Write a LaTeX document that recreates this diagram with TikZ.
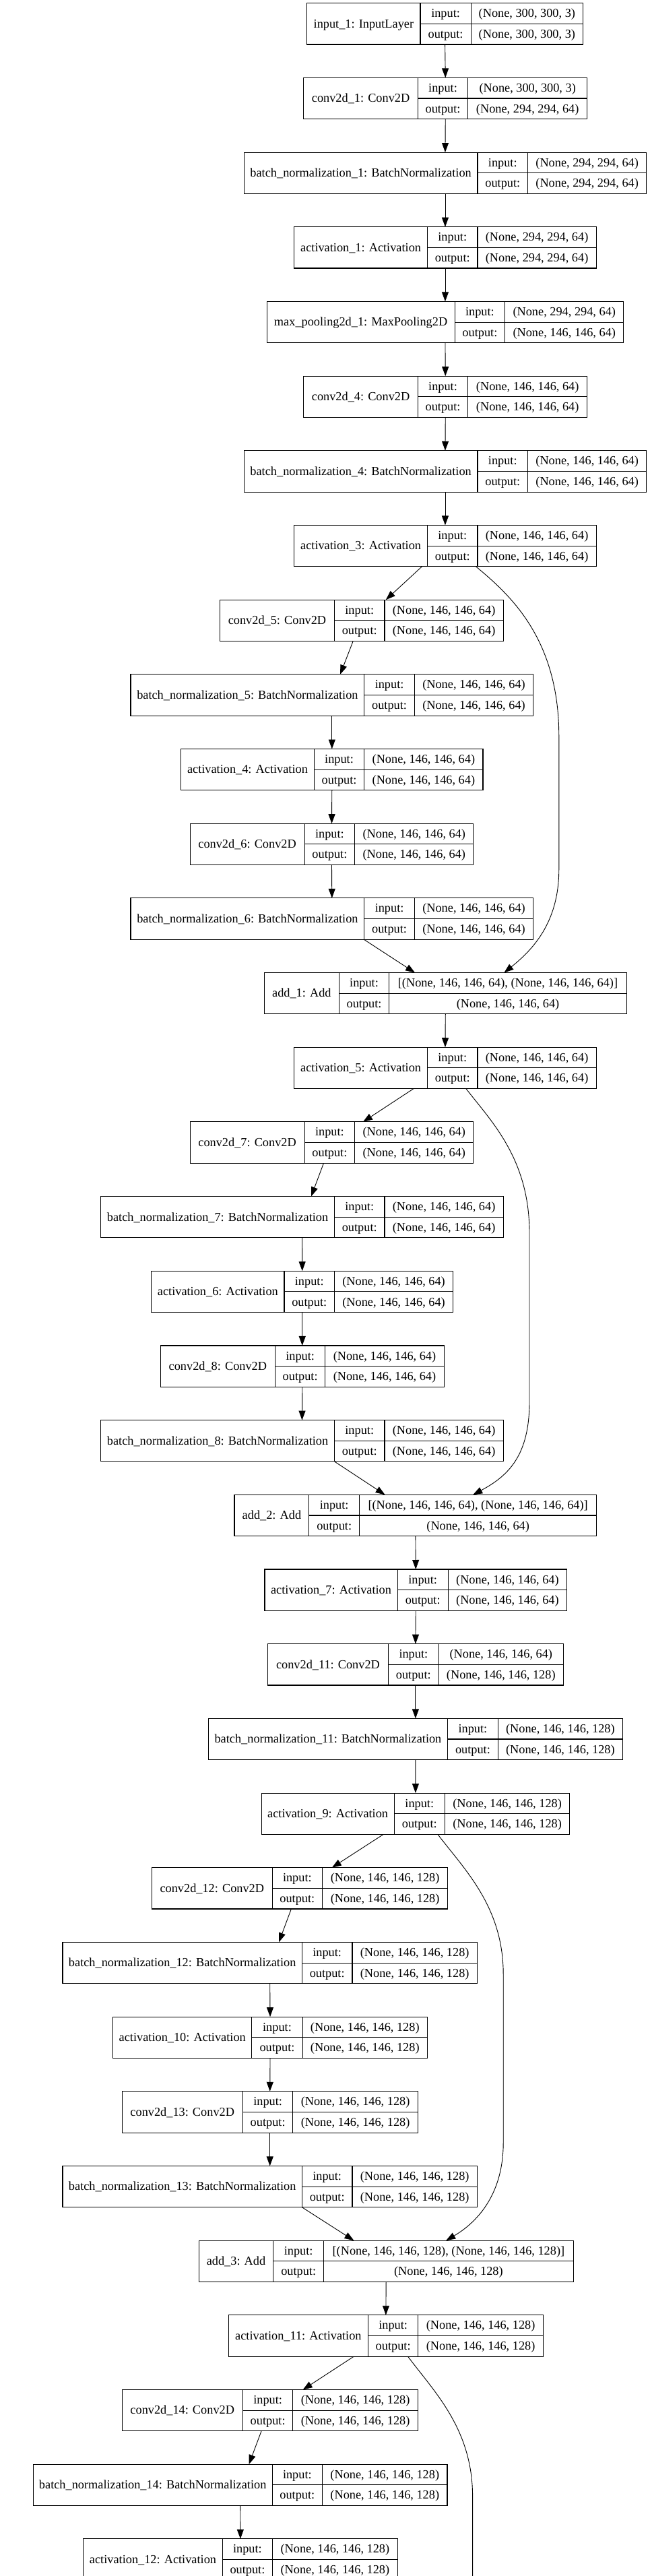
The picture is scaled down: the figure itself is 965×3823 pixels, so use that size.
\documentclass[tikz,border=0pt]{standalone}
\usepackage{fontspec}
\setmainfont{Liberation Serif}
\usetikzlibrary{arrows.meta}
\tikzset{
  recbox/.style={draw=black, line width=1.1pt, inner sep=0pt, outer sep=0pt, minimum height=61.3pt},
  recline/.style={draw=black, line width=1.1pt},
  txt/.style={inner sep=0pt, font=\fontsize{18.3}{22}\selectfont, text height=15.5pt, text depth=4pt},
  edge/.style={draw=black, line width=0.9pt, -{Triangle[length=14pt,width=10pt]}},
  conn/.style={draw=black, line width=0.9pt},
}
\newcommand\krec[9]{%
 \pgfmathsetmacro\ktop{4.7+110.68*#2}%
 \pgfmathsetmacro\kbot{\ktop+61.3}%
 \pgfmathsetmacro\kmid{\ktop+30.65}%
 \pgfmathsetmacro\kup{\ktop+15.325}%
 \pgfmathsetmacro\klo{\ktop+45.975}%
 \pgfmathsetmacro\kw{#6-#3}%
 \node[recbox, minimum width=\kw pt] (#1) at ({(#3+#6)/2},\kmid) {};
 \draw[recline] ({#4},\ktop) -- ({#4},\kbot) ({#5},\ktop) -- ({#5},\kbot) ({#4},\kmid) -- ({#6},\kmid);
 \node[txt] at ({(#3+#4)/2},\kmid) {#7};
 \node[txt] at ({(#4+#5)/2},\kup) {input:};
 \node[txt] at ({(#5+#6)/2},\kup) {#8};
 \node[txt] at ({(#4+#5)/2},\klo) {output:};
 \node[txt] at ({(#5+#6)/2},\klo) {#9};
}
\begin{document}
\begin{tikzpicture}[x=1pt,y=-1pt]
\fill[white] (0,0) rectangle (965,3823);
\useasboundingbox (0,0) rectangle (965,3823);
\krec{input1}{0}{455.8}{624.0}{699.2}{865.5}{input\_1: InputLayer}{(None, 300, 300, 3)}{(None, 300, 300, 3)}
\krec{conv1}{1}{450.9}{620.3}{694.8}{871.6}{conv2d\_1: Conv2D}{(None, 300, 300, 3)}{(None, 294, 294, 64)}
\krec{bn1}{2}{362.2}{709.0}{783.6}{959.7}{batch\_normalization\_1: BatchNormalization}{(None, 294, 294, 64)}{(None, 294, 294, 64)}
\krec{act1}{3}{436.7}{634.5}{709.0}{885.2}{activation\_1: Activation}{(None, 294, 294, 64)}{(None, 294, 294, 64)}
\krec{pool1}{4}{396.1}{675.1}{749.7}{925.8}{max\_pooling2d\_1: MaxPooling2D}{(None, 294, 294, 64)}{(None, 146, 146, 64)}
\krec{conv4}{5}{450.9}{620.3}{694.8}{871.6}{conv2d\_4: Conv2D}{(None, 146, 146, 64)}{(None, 146, 146, 64)}
\krec{bn4}{6}{362.2}{709.0}{783.6}{959.7}{batch\_normalization\_4: BatchNormalization}{(None, 146, 146, 64)}{(None, 146, 146, 64)}
\krec{act3}{7}{436.7}{634.5}{709.0}{885.2}{activation\_3: Activation}{(None, 146, 146, 64)}{(None, 146, 146, 64)}
\krec{conv5}{8}{326.5}{496.5}{571.0}{747.2}{conv2d\_5: Conv2D}{(None, 146, 146, 64)}{(None, 146, 146, 64)}
\krec{bn5}{9}{194.0}{540.8}{615.4}{791.6}{batch\_normalization\_5: BatchNormalization}{(None, 146, 146, 64)}{(None, 146, 146, 64)}
\krec{act4}{10}{268.6}{466.3}{540.8}{717.0}{activation\_4: Activation}{(None, 146, 146, 64)}{(None, 146, 146, 64)}
\krec{conv6}{11}{282.1}{452.1}{526.7}{702.9}{conv2d\_6: Conv2D}{(None, 146, 146, 64)}{(None, 146, 146, 64)}
\krec{bn6}{12}{194.0}{540.8}{615.4}{791.6}{batch\_normalization\_6: BatchNormalization}{(None, 146, 146, 64)}{(None, 146, 146, 64)}
\krec{add1}{13}{392.4}{503.3}{577.8}{930.2}{add\_1: Add}{[(None, 146, 146, 64), (None, 146, 146, 64)]}{(None, 146, 146, 64)}
\krec{act5}{14}{436.7}{634.5}{709.0}{885.2}{activation\_5: Activation}{(None, 146, 146, 64)}{(None, 146, 146, 64)}
\krec{conv7}{15}{282.1}{452.1}{526.7}{702.9}{conv2d\_7: Conv2D}{(None, 146, 146, 64)}{(None, 146, 146, 64)}
\krec{bn7}{16}{149.7}{496.5}{571.0}{747.2}{batch\_normalization\_7: BatchNormalization}{(None, 146, 146, 64)}{(None, 146, 146, 64)}
\krec{act6}{17}{224.8}{422.0}{496.5}{672.7}{activation\_6: Activation}{(None, 146, 146, 64)}{(None, 146, 146, 64)}
\krec{conv8}{18}{238.4}{408.4}{482.9}{659.1}{conv2d\_8: Conv2D}{(None, 146, 146, 64)}{(None, 146, 146, 64)}
\krec{bn8}{19}{149.7}{496.5}{571.0}{747.2}{batch\_normalization\_8: BatchNormalization}{(None, 146, 146, 64)}{(None, 146, 146, 64)}
\krec{add2}{20}{348.0}{458.9}{533.5}{885.8}{add\_2: Add}{[(None, 146, 146, 64), (None, 146, 146, 64)]}{(None, 146, 146, 64)}
\krec{act7}{21}{393.0}{590.1}{665.3}{841.5}{activation\_7: Activation}{(None, 146, 146, 64)}{(None, 146, 146, 64)}
\krec{conv11}{22}{397.3}{576.6}{651.1}{836.5}{conv2d\_11: Conv2D}{(None, 146, 146, 64)}{(None, 146, 146, 128)}
\krec{bn11}{23}{309.2}{664.7}{739.2}{924.6}{batch\_normalization\_11: BatchNormalization}{(None, 146, 146, 128)}{(None, 146, 146, 128)}
\krec{act9}{24}{388.1}{585.2}{660.4}{845.8}{activation\_9: Activation}{(None, 146, 146, 128)}{(None, 146, 146, 128)}
\krec{conv12}{25}{225.5}{404.1}{478.6}{664.7}{conv2d\_12: Conv2D}{(None, 146, 146, 128)}{(None, 146, 146, 128)}
\krec{bn12}{26}{93.0}{448.4}{523.0}{708.4}{batch\_normalization\_12: BatchNormalization}{(None, 146, 146, 128)}{(None, 146, 146, 128)}
\krec{act10}{27}{167.6}{373.9}{449.1}{634.5}{activation\_10: Activation}{(None, 146, 146, 128)}{(None, 146, 146, 128)}
\krec{conv13}{28}{181.1}{360.4}{434.9}{620.3}{conv2d\_13: Conv2D}{(None, 146, 146, 128)}{(None, 146, 146, 128)}
\krec{bn13}{29}{93.0}{448.4}{523.0}{708.4}{batch\_normalization\_13: BatchNormalization}{(None, 146, 146, 128)}{(None, 146, 146, 128)}
\krec{add3}{30}{295.1}{405.9}{480.5}{851.3}{add\_3: Add}{[(None, 146, 146, 128), (None, 146, 146, 128)]}{(None, 146, 146, 128)}
\krec{act11}{31}{339.4}{546.4}{620.9}{806.3}{activation\_11: Activation}{(None, 146, 146, 128)}{(None, 146, 146, 128)}
\krec{conv14}{32}{181.1}{360.4}{434.9}{620.3}{conv2d\_14: Conv2D}{(None, 146, 146, 128)}{(None, 146, 146, 128)}
\krec{bn14}{33}{49.3}{404.1}{478.6}{664.0}{batch\_normalization\_14: BatchNormalization}{(None, 146, 146, 128)}{(None, 146, 146, 128)}
\krec{act12}{34}{123.8}{330.2}{404.7}{590.1}{activation\_12: Activation}{(None, 146, 146, 128)}{(None, 146, 146, 128)}
% straight chain
\draw[edge] (input1.south) -- (conv1.north);
\draw[edge] (conv1.south) -- (bn1.north);
\draw[edge] (bn1.south) -- (act1.north);
\draw[edge] (act1.south) -- (pool1.north);
\draw[edge] (pool1.south) -- (conv4.north);
\draw[edge] (conv4.south) -- (bn4.north);
\draw[edge] (bn4.south) -- (act3.north);
% block 1
\draw[edge] ([xshift=-34.5pt]act3.south) -- ([xshift=36pt]conv5.north);
\draw[edge] ([xshift=-12.65pt]conv5.south) -- ([xshift=12.3pt]bn5.north);
\draw[edge] (bn5.south) -- (act4.north);
\draw[edge] (act4.south) -- (conv6.north);
\draw[edge] (conv6.south) -- (bn6.north);
\draw[edge] ([xshift=47.4pt]bn6.south) -- ([xshift=-45.3pt]add1.north);
\draw[edge] ([xshift=45.6pt]act3.south) .. controls (760,885) and (829.8,950) .. (829.8,1093) -- (829.8,1290) .. controls (829.8,1370) and (790,1410) .. ([xshift=87.1pt]add1.north);
\draw[edge] (add1.south) -- (act5.north);
% block 2
\draw[edge] ([xshift=-46.75pt]act5.south) -- ([xshift=46.5pt]conv7.north);
\draw[edge] ([xshift=-12pt]conv7.south) -- ([xshift=13.55pt]bn7.north);
\draw[edge] (bn7.south) -- (act6.north);
\draw[edge] (act6.south) -- (conv8.north);
\draw[edge] (conv8.south) -- (bn8.north);
\draw[edge] ([xshift=48.05pt]bn8.south) -- ([xshift=-45.3pt]add2.north);
\draw[edge] ([xshift=30.85pt]act5.south) .. controls (730,1665) and (786,1720) .. (786,1830) -- (786,2080) .. controls (786,2160) and (755,2190) .. ([xshift=85.3pt]add2.north);
\draw[edge] (add2.south) -- (act7.north);
\draw[edge] (act7.south) -- (conv11.north);
\draw[edge] (conv11.south) -- (bn11.north);
\draw[edge] (bn11.south) -- (act9.north);
% block 3
\draw[edge] ([xshift=-47.75pt]act9.south) -- ([xshift=47.7pt]conv12.north);
\draw[edge] ([xshift=-12.7pt]conv12.south) -- ([xshift=13.3pt]bn12.north);
\draw[edge] (bn12.south) -- (act10.north);
\draw[edge] (act10.south) -- (conv13.north);
\draw[edge] (conv13.south) -- (bn13.north);
\draw[edge] ([xshift=47.7pt]bn13.south) -- ([xshift=-47.8pt]add3.north);
\draw[edge] ([xshift=32.95pt]act9.south) .. controls (690,2775) and (747.2,2830) .. (747.2,2930) -- (747.2,3180) .. controls (747.2,3260) and (705,3300) .. ([xshift=89pt]add3.north);
\draw[edge] (add3.south) -- (act11.north);
% block 4
\draw[edge] ([xshift=-47.45pt]act11.south) -- ([xshift=49pt]conv14.north);
\draw[edge] ([xshift=-12.6pt]conv14.south) -- ([xshift=12.95pt]bn14.north);
\draw[edge] (bn14.south) -- (act12.north);
\coordinate (skipend) at (701.6,3823);
\draw[conn] ([xshift=32.65pt]act11.south) .. controls (645,3550) and (701.6,3605) .. (701.6,3705) -- (skipend);
\end{tikzpicture}
\end{document}
